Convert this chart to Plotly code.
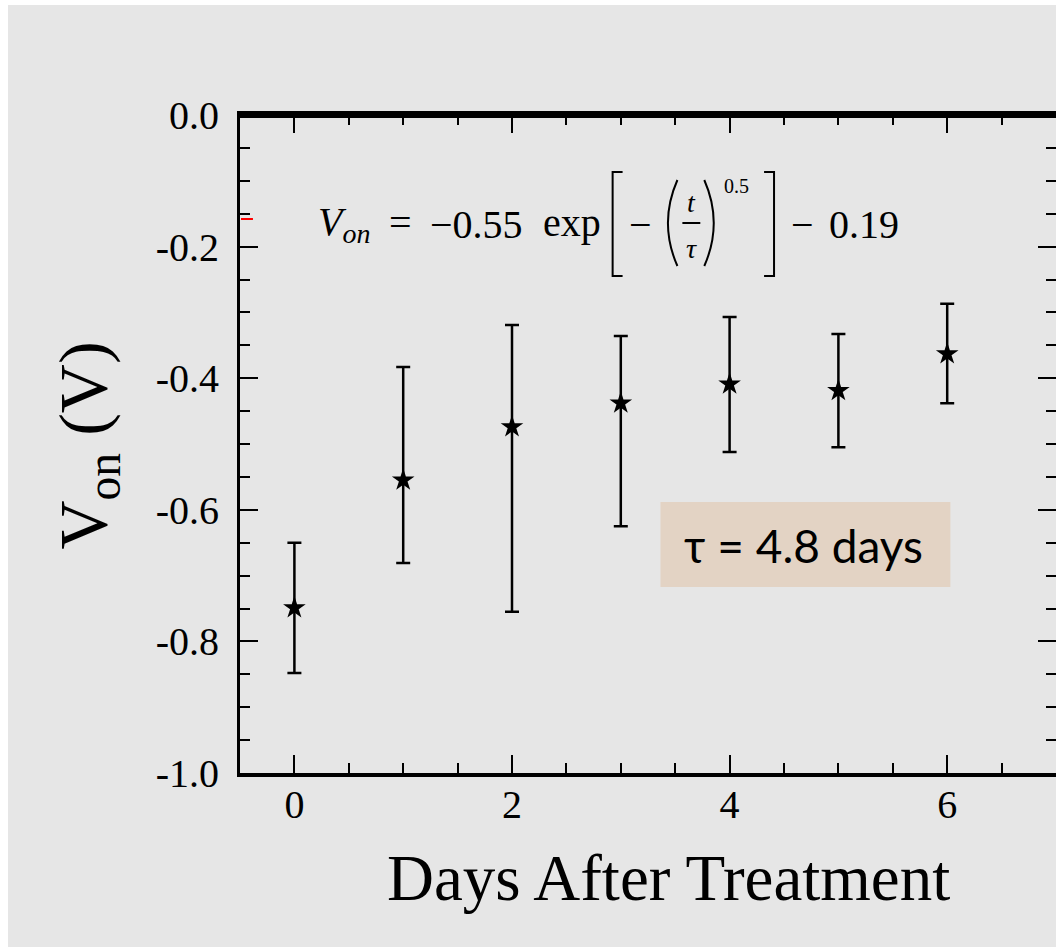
import plotly.graph_objects as go

# ---- data ----
days = [0, 1, 2, 3, 4, 5, 6]
v_on = [-0.749, -0.555, -0.474, -0.438, -0.409, -0.419, -0.363]
err_top = [-0.650, -0.383, -0.319, -0.336, -0.307, -0.333, -0.287]
err_bottom = [-0.848, -0.681, -0.755, -0.625, -0.512, -0.505, -0.438]
y_tick_vals = [-1.0, -0.8, -0.6, -0.4, -0.2, 0.0]
y_tick_labels = ["-1.0", "-0.8", "-0.6", "-0.4", "-0.2", "0.0"]
x_tick_vals = [0, 2, 4, 6]
x_tick_labels = ["0", "2", "4", "6"]

err_plus = [t - v for t, v in zip(err_top, v_on)]
err_minus = [v - b for v, b in zip(v_on, err_bottom)]

BG = "#e6e6e6"
SERIF = "Liberation Serif"

# page-pixel -> paper helpers (plot area: left 240, right 1059, top 115, bottom 773)
L, R, T, B = 240, 1059, 115, 773
def px(p):
    return (p - L) / (R - L)
def py(p):
    return (B - p) / (B - T)

fig = go.Figure()
fig.add_trace(go.Scatter(
    x=days, y=v_on, mode="markers",
    marker=dict(symbol="star", size=17, color="black"),
    error_y=dict(type="data", symmetric=False, array=err_plus, arrayminus=err_minus,
                 color="black", thickness=2.5, width=7),
    showlegend=False,
))

annotations = []
shapes = []

def ann(text, x, y, size, xanchor="center", yanchor="middle", family=SERIF, angle=0):
    annotations.append(dict(text=text, x=px(x), y=py(y), xref="paper", yref="paper",
                            xanchor=xanchor, yanchor=yanchor, showarrow=False,
                            textangle=angle,
                            font=dict(family=family, size=size, color="black")))

def path(d_pts, width=2, color="black"):
    d = "M " + " L ".join(f"{px(a)},{py(b)}" for a, b in d_pts)
    shapes.append(dict(type="path", path=d, xref="paper", yref="paper",
                       line=dict(color=color, width=width)))

# equation
ann("<i>V</i><sub><i>on</i></sub>", 316, 224, 40, xanchor="left")
ann("=", 401, 222, 40)
ann("−0.55", 429, 224, 40, xanchor="left")
ann("exp", 542, 222, 40, xanchor="left")
path([(624, 172), (614, 172), (614, 276), (624, 276)])
ann("−", 642, 224, 40)
shapes.append(dict(type="path", xref="paper", yref="paper",
                   path=f"M {px(679)},{py(180)} Q {px(660)},{py(223)} {px(679)},{py(266)}",
                   line=dict(color="black", width=2)))
shapes.append(dict(type="path", xref="paper", yref="paper",
                   path=f"M {px(706)},{py(180)} Q {px(725)},{py(223)} {px(706)},{py(266)}",
                   line=dict(color="black", width=2)))
path([(684, 223), (702, 223)])
ann("<i>t</i>", 693, 202, 28)
ann("<i>τ</i>", 693, 249, 28)
ann("0.5", 738, 186, 20)
path([(766, 172), (776, 172), (776, 276), (766, 276)])
ann("−", 805, 224, 40)
ann("0.19", 829, 224, 40, xanchor="left")

# tau box
shapes.append(dict(type="rect", xref="paper", yref="paper",
                   x0=px(662), x1=px(953), y0=py(587), y1=py(502),
                   fillcolor="#e3d3c4", line=dict(width=0), layer="below"))
ann("τ = 4.8 days", 806, 545, 46, family="Lato")

# red stray mark
path([(241, 219), (253, 219)], width=2, color="red")

# thicker top frame
path([(238, 115.5), (1060, 115.5)], width=5)

# axis titles
ann("V<sub>on</sub> (V)", 86, 446, 68, angle=-90)
ann("Days After Treatment", 670, 878, 65)

fig.update_layout(
    width=1060, height=942,
    margin=dict(l=L - 8, r=1068 - R, t=T - 5, b=947 - B),
    paper_bgcolor=BG, plot_bgcolor=BG,
    annotations=annotations, shapes=shapes,
    xaxis=dict(range=[-0.5, 7.0], tickmode="array", tickvals=x_tick_vals, ticktext=x_tick_labels,
               ticks="inside", ticklen=18, tickwidth=2, tickcolor="black",
               showline=True, linecolor="black", linewidth=4, mirror="ticks",
               showgrid=False, zeroline=False, ticklabelstandoff=-7,
               tickfont=dict(family=SERIF, size=40, color="black"),
               minor=dict(dtick=0.5, tick0=0, ticks="inside", ticklen=10, tickwidth=2,
                          tickcolor="black", showgrid=False)),
    yaxis=dict(range=[-1.0, 0.0], tickmode="array", tickvals=y_tick_vals, ticktext=y_tick_labels,
               ticks="inside", ticklen=18, tickwidth=2, tickcolor="black",
               showline=True, linecolor="black", linewidth=3, mirror="ticks",
               showgrid=False, zeroline=False, ticklabelstandoff=10,
               tickfont=dict(family=SERIF, size=40, color="black"),
               minor=dict(dtick=0.05, tick0=0, ticks="inside", ticklen=10, tickwidth=2,
                          tickcolor="black", showgrid=False)),
)

fig.write_html("out.html", post_script=(
    "document.body.style.margin='5px 0 0 8px';"
    "document.body.style.overflow='hidden';"
    "document.documentElement.style.overflow='hidden';"
))
